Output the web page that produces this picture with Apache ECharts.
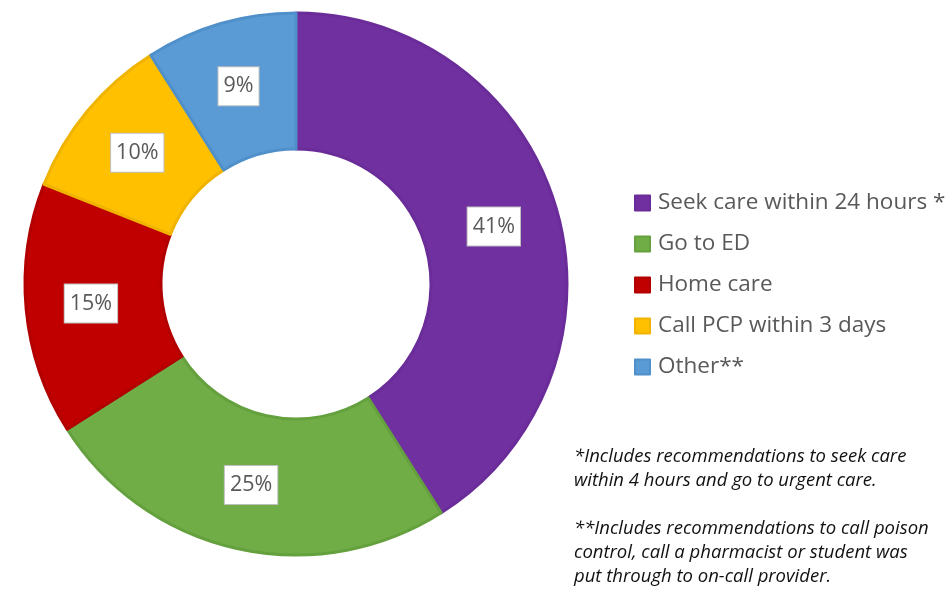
<!DOCTYPE html>
<html>
<head>
<meta charset="utf-8">
<script src="https://cdn.jsdelivr.net/npm/echarts@6/dist/echarts.min.js"></script>
<style>html,body{margin:0;padding:0;background:#fff;}#c{width:950px;height:589px;}</style>
</head>
<body>
<div id="c"></div>
<script>
const categories = ["Seek care within 24 hours *", "Go to ED", "Home care", "Call PCP within 3 days", "Other**"];
const values = [41, 25, 15, 10, 9];
const colors = ["#7030A0", "#70AD47", "#C00000", "#FFC000", "#5B9BD5"];
const borderColors = ["#6A2C98", "#65A03E", "#B20000", "#F0B400", "#5090CA"];
const footnotes = [
  "*Includes recommendations to seek care",
  "within 4 hours and go to urgent care.",
  "",
  "**Includes recommendations to call poison",
  "control, call a pharmacist or student was",
  "put through to on-call provider."
];

const chart = echarts.init(document.getElementById('c'), null, {renderer: 'canvas'});
const FONT = '"Open Sans", sans-serif';
chart.setOption({
  animation: false,
  legend: {
    orient: 'vertical',
    left: 634,
    top: 190,
    padding: 0,
    itemWidth: 15,
    itemHeight: 15,
    itemGap: 15,
    icon: 'rect',
    data: categories,
    textStyle: {fontFamily: FONT, fontSize: 22.5, color: '#595959', lineHeight: 26, padding: [0,0,0,3]},
  },
  graphic: footnotes.map((t, i) => ({
    type: 'text',
    left: 574,
    top: 447 + i * 24,
    style: {text: t, font: 'italic 18.5px ' + FONT, fill: '#111'}
  })),
  series: [{
    type: 'pie',
    center: [296, 284],
    radius: [135, 271],
    startAngle: 90,
    clockwise: true,
    label: {
      show: true,
      position: 'inside',
      formatter: '{c}%',
      fontFamily: FONT,
      fontSize: 21.5,
      lineHeight: 25,
      color: '#595959',
      backgroundColor: '#fff',
      borderColor: '#BFBFBF',
      borderWidth: 1,
      padding: [7, 5, 6, 5]
    },
    labelLine: {show: false},
    emphasis: {disabled: true},
    data: categories.map((n, i) => ({
      name: n,
      value: values[i],
      itemStyle: {color: colors[i], borderColor: borderColors[i], borderWidth: 3}
    }))
  }]
});
</script>
</body>
</html>
